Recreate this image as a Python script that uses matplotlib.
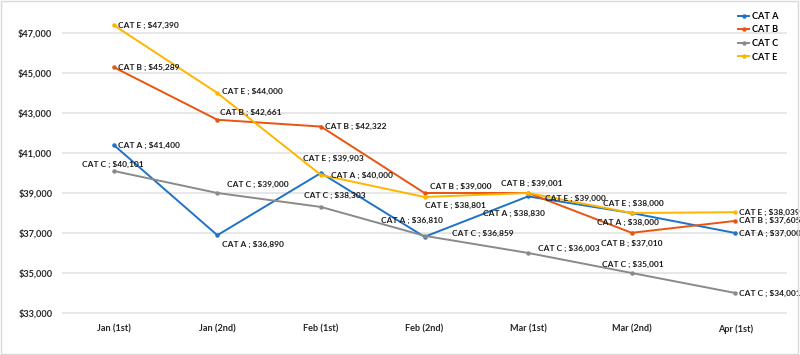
import matplotlib.pyplot as plt
from matplotlib.ticker import FuncFormatter

plt.rcParams['font.family'] = ['Lato', 'DejaVu Sans']

periods = ['Jan (1st)', 'Jan (2nd)', 'Feb (1st)', 'Feb (2nd)', 'Mar (1st)', 'Mar (2nd)', 'Apr (1st)']
series_names = ['CAT A', 'CAT B', 'CAT C', 'CAT E']
cat_a = [41400, 36890, 40000, 36810, 38830, 38000, 37000]
cat_b = [45289, 42661, 42322, 39000, 39001, 37010, 37605]
cat_c = [40101, 39000, 38303, 36859, 36003, 35001, 34001]
cat_e = [47390, 44000, 39903, 38801, 39000, 38000, 38039]
y_ticks = [33000, 35000, 37000, 39000, 41000, 43000, 45000, 47000]

colors = ['#1f72c6', '#e8550f', '#8a8a8a', '#ffb400']

# label offsets in points (dx, dy, ha) for each point
offsets = {
    'CAT A': [(3, 0, 'left'), (3, -7, 'left'), (7, -2, 'left'), (-9, 12, 'center'),
              (-10, -12, 'center'), (-3, -7, 'center'), (2.5, 0, 'left')],
    'CAT B': [(3, 0, 'left'), (2, 5, 'left'), (3, 0, 'left'), (4, 5, 'left'),
              (3, 7, 'center'), (0, -8, 'center'), (2.5, 0, 'left')],
    'CAT C': [(-1, 5, 'center'), (7, 6, 'left'), (10, 8, 'center'), (20, 2, 'left'),
              (7, 3, 'left'), (1, 6, 'center'), (2.5, 0, 'left')],
    'CAT E': [(3, 0, 'left'), (3, 1, 'left'), (9, 12, 'center'), (22, -6, 'center'),
              (12, -4, 'left'), (1, 7, 'center'), (2.5, 0, 'left')],
}

fig = plt.figure(figsize=(8, 3.55), dpi=100)
ax = fig.add_axes([62 / 800, 0, 725 / 800, 1])
ax.set_ylim(30900, 48650)
ax.set_xlim(-0.5, 6.5)

x = list(range(len(periods)))
for name, vals, col in zip(series_names, [cat_a, cat_b, cat_c, cat_e], colors):
    ax.plot(x, vals, color=col, lw=1.4, marker='o', ms=2.2, label=name, zorder=3)
    for xi, v, (dx, dy, ha) in zip(x, vals, offsets[name]):
        ax.annotate(f'{name} ; ${v:,}', (xi, v), xytext=(dx, dy), textcoords='offset points',
                    ha=ha, va='center', fontsize=6.0, color='#1a1a1a', weight='bold',
                    zorder=4, annotation_clip=False)

for t in y_ticks:
    ax.axhline(t, color='#e3e3e3', lw=1.2, zorder=1)
ax.set_yticks(y_ticks)
ax.yaxis.set_major_formatter(FuncFormatter(lambda v, p: f'${v:,.0f}'))
ax.set_xticks(x)
ax.set_xticklabels(periods)
ax.tick_params(length=0, labelsize=6.6, colors='#262626')
ax.tick_params(axis='y', pad=7)
ax.tick_params(axis='x', pad=-22)
for lab in ax.get_xticklabels() + ax.get_yticklabels():
    lab.set_fontweight('bold')
for s in ax.spines.values():
    s.set_visible(False)

leg = ax.legend(loc='upper right', bbox_to_anchor=(1.0, 0.99), frameon=False,
                handlelength=1.2, handletextpad=0.3, labelspacing=0.5,
                prop={'weight': 'bold', 'size': 6.6})

fig.patches.append(plt.Rectangle((0.001, 0.002), 0.997, 0.995, transform=fig.transFigure,
                                 fill=False, edgecolor='#d9d9d9', lw=1))
fig.savefig('out.png', dpi=100)
